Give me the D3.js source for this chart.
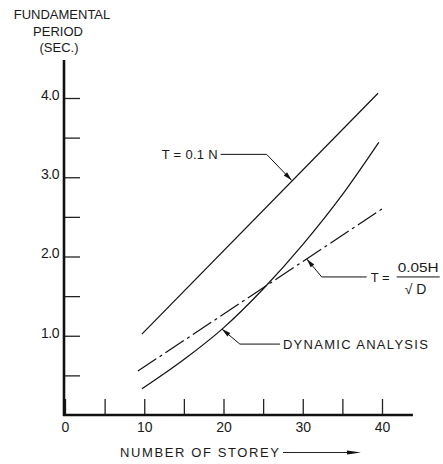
<!DOCTYPE html>
<html><head><meta charset="utf-8">
<script src="https://cdn.jsdelivr.net/npm/d3@7"></script>
<style>body{margin:0;background:#fff}svg{display:block}text{font-family:"Liberation Sans",Arial,sans-serif;fill:#1a1a1a}</style>
</head><body>
<script>
// ---- data ----
const storeys = [9.7, 39.5];                 // T = 0.1 N
const periodCode = [1.02, 4.06];
const storeysEmp = [9.2, 40];                // T = 0.05H / sqrt(D)
const periodEmp = [0.555, 2.60];
const storeysDyn = [9.7, 15, 20, 25, 30, 35, 39.6]; // dynamic analysis
const periodDyn = [0.33, 0.70, 1.10, 1.59, 2.15, 2.78, 3.44];
const xTicks = [0, 5, 10, 15, 20, 25, 30, 35, 40];
const xTickLabels = ["0", "", "10", "", "20", "", "30", "", "40"];
const yTicks = [0.5, 1, 1.5, 2, 2.5, 3, 3.5, 4];
const yTickLabels = ["", "1.0", "", "2.0", "", "3.0", "", "4.0"];
const yTitle = ["FUNDAMENTAL", "PERIOD", "(SEC.)"];
const xTitle = "NUMBER  OF  STOREY";

const W = 443, H = 464;
const svg = d3.select("body").append("svg").attr("width", W).attr("height", H);
const x = d3.scaleLinear().domain([0, 40]).range([65, 382]);
const y = d3.scaleLinear().domain([0, 4]).range([415, 98]);

// axes
const xAxis = d3.axisBottom(x).tickValues(xTicks).tickSize(-16).tickPadding(7)
  .tickFormat((d, i) => xTickLabels[i]);
const gx = svg.append("g").attr("transform", `translate(0,${y(0)})`).call(xAxis);
gx.select(".domain").remove();
gx.selectAll("line").attr("stroke", "#222").attr("stroke-width", 1.3);
gx.selectAll("text").attr("font-size", 14).attr("font-family", "Liberation Sans").attr("fill", "#1a1a1a");

const yAxis = d3.axisLeft(y).tickValues(yTicks).tickSize(-16).tickPadding(5)
  .tickFormat((d, i) => yTickLabels[i]);
const gy = svg.append("g").attr("transform", `translate(${x(0) - 1},0)`).call(yAxis);
gy.select(".domain").remove();
gy.selectAll("line").attr("stroke", "#222").attr("stroke-width", 1.3);
gy.selectAll("text").attr("font-size", 14).attr("dy", "0.1em").attr("font-family", "Liberation Sans")
  .attr("fill", "#1a1a1a").attr("letter-spacing", "-0.5");

// axis lines
svg.append("line").attr("x1", x(0) - 1).attr("x2", x(0) - 1).attr("y1", y(4.48)).attr("y2", y(0) + 1)
  .attr("stroke", "#111").attr("stroke-width", 2.6);
svg.append("line").attr("x1", x(0) - 2).attr("x2", x(43.9)).attr("y1", y(0)).attr("y2", y(0))
  .attr("stroke", "#111").attr("stroke-width", 2.6);

// titles
const yt = svg.append("g");
[[62, 19], [58, 36], [59, 52]].forEach((p, i) => {
  yt.append("text").attr("x", p[0]).attr("y", p[1]).attr("text-anchor", "middle")
    .attr("font-size", 13).text(yTitle[i]);
});
svg.append("text").attr("x", 120).attr("y", 457).attr("font-size", 13)
  .attr("textLength", 159).attr("lengthAdjust", "spacing").text(xTitle);
svg.append("line").attr("x1", 283).attr("x2", 350).attr("y1", 452.5).attr("y2", 452.5)
  .attr("stroke", "#222").attr("stroke-width", 1);
svg.append("path").attr("d", "M347,450.5L361,452.5L347,454.5Z").attr("fill", "#111");

// curves
const lineGen = d3.line().x(d => x(d[0])).y(d => y(d[1]));
const codePts = d3.zip(storeys, periodCode);
const empPts = d3.zip(storeysEmp, periodEmp);
const dynPts = d3.zip(storeysDyn, periodDyn);
svg.append("path").attr("d", lineGen(codePts)).attr("fill", "none").attr("stroke", "#111").attr("stroke-width", 1.2);
svg.append("path").attr("d", lineGen(empPts)).attr("fill", "none").attr("stroke", "#111").attr("stroke-width", 1.2)
  .attr("stroke-dasharray", "22,4,3,4");
svg.append("path").attr("d", lineGen.curve(d3.curveMonotoneX)(dynPts)).attr("fill", "none").attr("stroke", "#111").attr("stroke-width", 1.2);

// annotations
function interp(pts, n) {
  for (let i = 0; i < pts.length - 1; i++) {
    if (n >= pts[i][0] && n <= pts[i + 1][0]) {
      const t = (n - pts[i][0]) / (pts[i + 1][0] - pts[i][0]);
      return pts[i][1] + t * (pts[i + 1][1] - pts[i][1]);
    }
  }
  return pts[pts.length - 1][1];
}
function leader(tip, elbow, end) {
  svg.append("path").attr("d", `M${end[0]},${end[1]}L${elbow[0]},${elbow[1]}L${tip[0]},${tip[1]}`)
    .attr("fill", "none").attr("stroke", "#111").attr("stroke-width", 1);
  const ang = Math.atan2(tip[1] - elbow[1], tip[0] - elbow[0]);
  const L = 9, w = 2.3;
  const bx = tip[0] - L * Math.cos(ang), by = tip[1] - L * Math.sin(ang);
  const px = -Math.sin(ang) * w, py = Math.cos(ang) * w;
  svg.append("path").attr("d", `M${tip[0]},${tip[1]}L${bx + px},${by + py}L${bx - px},${by - py}Z`).attr("fill", "#111");
}
// T = 0.1 N
{
  const n = 28.6, tip = [x(n), y(interp(codePts, n)) - 1];
  leader(tip, [tip[0] - 25, tip[1] - 26], [tip[0] - 71, tip[1] - 26]);
  svg.append("text").attr("x", tip[0] - 130).attr("y", tip[1] - 21.5).attr("font-size", 13)
    .attr("textLength", 56).attr("lengthAdjust", "spacing").text("T = 0.1 N");
}
// T = 0.05H / sqrt(D)
{
  const n = 30.5, tip = [x(n), y(interp(empPts, n))];
  const e = [tip[0] + 15, tip[1] + 18];
  leader(tip, e, [e[0] + 45, e[1]]);
  svg.append("text").attr("x", e[0] + 49).attr("y", e[1] + 5).attr("font-size", 13).text("T =");
  svg.append("text").attr("x", e[0] + 76).attr("y", e[1] - 5).attr("font-size", 13)
    .attr("textLength", 41).attr("lengthAdjust", "spacingAndGlyphs").text("0.05H");
  svg.append("line").attr("x1", e[0] + 75).attr("x2", e[0] + 118).attr("y1", e[1]).attr("y2", e[1])
    .attr("stroke", "#111").attr("stroke-width", 1);
  svg.append("text").attr("x", e[0] + 83).attr("y", e[1] + 17).attr("font-size", 14).text("\u221A D");
}
// Dynamic analysis
{
  const n = 19.8, tip = [x(n), y(interp(dynPts, n))];
  const e = [tip[0] + 18, tip[1] + 15];
  leader(tip, e, [e[0] + 40, e[1]]);
  svg.append("text").attr("x", e[0] + 43).attr("y", e[1] + 4.5).attr("font-size", 13)
    .attr("textLength", 145).attr("lengthAdjust", "spacing").text("DYNAMIC  ANALYSIS");
}
</script>
</body></html>
